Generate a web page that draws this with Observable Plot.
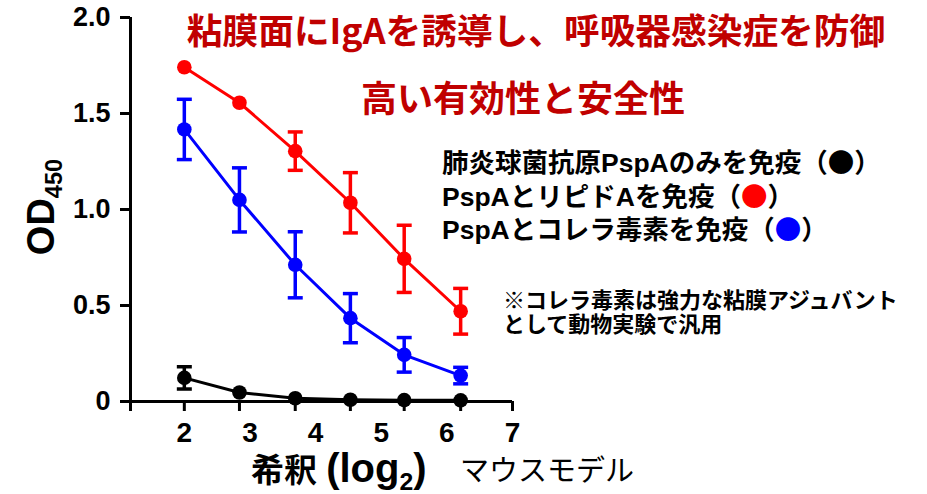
<!DOCTYPE html>
<html>
<head>
<meta charset="utf-8">
<script src="https://cdn.jsdelivr.net/npm/d3@7"></script>
<script src="https://cdn.jsdelivr.net/npm/@observablehq/plot@0.6"></script>
<style>
  html, body { margin: 0; padding: 0; background: #fff; }
  #wrap { position: relative; width: 927px; height: 494px; overflow: hidden;
          font-family: "Liberation Sans", "Noto Sans CJK JP", sans-serif; }
  #wrap svg { position: absolute; left: 0; top: 0; }
  .ov { position: absolute; white-space: nowrap; line-height: 1; }
  .sub { font-size: 0.62em; position: relative; top: 0.32em; }
  .dot { font-family: "Noto Sans CJK JP", sans-serif; font-size: 1em; line-height: 1; }
</style>
</head>
<body>
<div id="wrap"></div>
<script>
// ---- data ----
const xTickLabels = [2, 3, 4, 5, 6, 7];
const yTicks = [0, 0.5, 1.0, 1.5, 2.0];
const yTickLabels = ["0", "0.5", "1.0", "1.5", "2.0"];
const xDomain = [1.18, 7];
const dilution = [2.0, 2.84, 3.69, 4.53, 5.35, 6.21];

const seriesNames = ["肺炎球菌抗原PspAのみを免疫", "PspAとリピドAを免疫", "PspAとコレラ毒素を免疫"];
const seriesColors = ["#000000", "#ff0000", "#0000ff"];

const pspaOnly      = [0.123, 0.047, 0.017, 0.009, 0.007, 0.006];
const pspaOnlyErr   = [0.058, 0, 0, 0, 0, 0];
const pspaLipidA    = [1.741, 1.556, 1.304, 1.035, 0.743, 0.470];
const pspaLipidAErr = [0, 0, 0.100, 0.157, 0.175, 0.119];
const pspaCT        = [1.417, 1.050, 0.712, 0.434, 0.243, 0.135];
const pspaCTErr     = [0.157, 0.167, 0.172, 0.128, 0.090, 0.043];

const titleLine1 = "粘膜面にIgAを誘導し、呼吸器感染症を防御";
const titleLine2 = "高い有効性と安全性";
const noteLines = ["※コレラ毒素は強力な粘膜アジュバント", "として動物実験で汎用"];
const xLabelMain = "希釈";
const modelLabel = "マウスモデル";

// ---- build table ----
const seriesValues = [pspaOnly, pspaCT, pspaLipidA];
const seriesErrs = [pspaOnlyErr, pspaCTErr, pspaLipidAErr];
const seriesIdx = [0, 2, 1]; // draw order: black, blue, red
const rowsBySeries = seriesIdx.map((si, k) =>
  dilution.map((x, i) => ({
    series: seriesNames[si], color: seriesColors[si],
    x, y: seriesValues[k][i], err: seriesErrs[k][i]
  }))
);

const capSymbol = {
  draw(context, size) {
    const r = Math.sqrt(size / Math.PI);
    context.moveTo(-r, 0);
    context.lineTo(r, 0);
  }
};

const marks = [
  Plot.ruleX([xDomain[0]], {y1: 0, y2: 2, strokeWidth: 3}),
  Plot.ruleY([0], {x1: xDomain[0], x2: xDomain[1], strokeWidth: 3}),
  Plot.axisY(yTicks, {tickSize: 10, tickPadding: 10, strokeWidth: 3,
    tickFormat: d => yTickLabels[yTicks.indexOf(d)],
    fontSize: 27, fontWeight: "bold", fill: "#000", label: null}),
  Plot.axisX([xDomain[0], ...dilution, xDomain[1]], {tickSize: 10, strokeWidth: 3,
    tickFormat: () => "", label: null}),
  Plot.axisX(xTickLabels, {tickSize: 0, tickPadding: 21,
    fontSize: 28, fontWeight: "bold", fill: "#000", label: null})
];

for (const rows of rowsBySeries) {
  const c = rows[0].color;
  const withErr = rows.filter(d => d.err > 0);
  marks.push(
    Plot.line(rows, {x: "x", y: "y", stroke: c, strokeWidth: 3}),
    Plot.ruleX(withErr, {x: "x", y1: d => d.y - d.err, y2: d => d.y + d.err, stroke: c, strokeWidth: 3.5}),
    Plot.dot(withErr, {x: "x", y: d => d.y + d.err, symbol: capSymbol, r: 7.5, stroke: c, strokeWidth: 3.5, fill: "none"}),
    Plot.dot(withErr, {x: "x", y: d => d.y - d.err, symbol: capSymbol, r: 7.5, stroke: c, strokeWidth: 3.5, fill: "none"}),
    Plot.dot(rows, {x: "x", y: "y", r: 7.3, fill: c, stroke: "none"})
  );
}

const chart = Plot.plot({
  width: 927,
  height: 494,
  marginLeft: 130,
  marginRight: 415,
  marginTop: 17,
  marginBottom: 93,
  style: {fontFamily: "'Liberation Sans', 'Noto Sans CJK JP', sans-serif", background: "#fff", color: "#000", overflow: "visible"},
  x: {type: "linear", domain: xDomain, label: null},
  y: {type: "linear", domain: [0, 2], label: null},
  marks
});

d3.select(chart).selectAll("text").attr("font-weight", "bold").style("font-weight", "bold");

const wrap = document.getElementById("wrap");
wrap.appendChild(chart);

function addText(html, style) {
  const d = document.createElement("div");
  d.className = "ov";
  d.innerHTML = html;
  Object.assign(d.style, style);
  wrap.appendChild(d);
  return d;
}

const cjk = "'Noto Sans CJK JP', 'Liberation Sans', sans-serif";
const latin = "'Liberation Sans', 'Noto Sans CJK JP', sans-serif";

// titles
addText(titleLine1, {left: "536px", top: "29px", transform: "translate(-50%,-50%)",
  fontSize: "35.7px", fontWeight: "bold", color: "#c00000", fontFamily: cjk});
addText(titleLine2, {left: "523px", top: "96px", transform: "translate(-50%,-50%)",
  fontSize: "36px", fontWeight: "bold", color: "#c00000", fontFamily: cjk});

// legend
const legendCenters = [162, 196, 229];
[0, 1, 2].forEach((si, k) => {
  addText(`${seriesNames[si]}（<span class="dot" style="color:${seriesColors[si]}">●</span>）`,
    {left: "442px", top: legendCenters[k] + "px", transform: "translateY(-50%)",
     fontSize: "26.5px", fontWeight: "bold", color: "#000", fontFamily: latin});
});

// note
const noteCenters = [301, 325];
noteLines.forEach((t, k) => {
  addText(t, {left: "503px", top: noteCenters[k] + "px", transform: "translateY(-50%)",
    fontSize: "22px", fontWeight: "bold", color: "#000", fontFamily: latin});
});

// axis titles
addText(`${xLabelMain} <span style="font-size:40px">(log<span class="sub">2</span>)</span>`,
  {left: "251px", top: "468px", transform: "translateY(-50%)",
  fontSize: "33px", fontWeight: "bold", color: "#000", fontFamily: latin});
addText(modelLabel, {left: "460px", top: "468px", transform: "translateY(-50%)",
  fontSize: "29px", fontWeight: "normal", color: "#000", fontFamily: cjk});
addText(`OD<span class="sub">450</span>`, {left: "41px", top: "207px", transform: "translate(-50%,-50%) rotate(-90deg)",
  fontSize: "38px", fontWeight: "bold", color: "#000", fontFamily: latin});
</script>
</body>
</html>
